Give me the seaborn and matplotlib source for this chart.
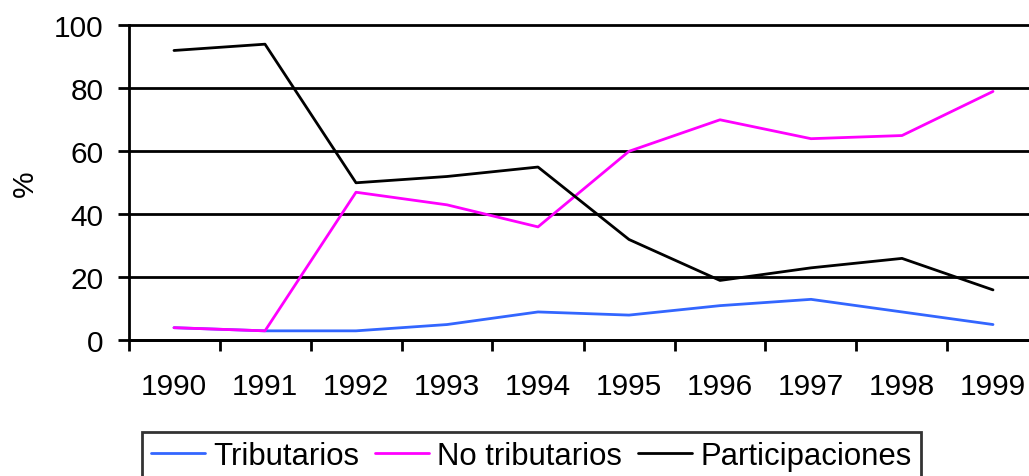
import pandas as pd
import numpy as np
import matplotlib
matplotlib.use("Agg")
import matplotlib.pyplot as plt
import seaborn as sns

# --------------------------------------------------
# Data
# --------------------------------------------------
years = ["1990", "1991", "1992", "1993", "1994", "1995", "1996", "1997", "1998", "1999"]
tributarios = [4, 3, 3, 5, 9, 8, 11, 13, 9, 5]
no_tributarios = [4, 3, 47, 43, 36, 60, 70, 64, 65, 79]
participaciones = [92, 94, 50, 52, 55, 32, 19, 23, 26, 16]

series_names = ["Tributarios", "No tributarios", "Participaciones"]
colors = ["#3366FF", "#FF00FF", "#000000"]

df = pd.DataFrame({
    "year": years * 3,
    "value": tributarios + no_tributarios + participaciones,
    "serie": np.repeat(series_names, len(years)),
})

# --------------------------------------------------
# Plot
# --------------------------------------------------
sns.set_style("white")
plt.rcParams["font.family"] = ["Liberation Sans", "DejaVu Sans"]
plt.rcParams["text.color"] = "black"
plt.rcParams["axes.labelcolor"] = "black"
plt.rcParams["xtick.color"] = "black"
plt.rcParams["ytick.color"] = "black"

FS = 21.5
LW = 2.0

fig = plt.figure(figsize=(10.29, 4.77), dpi=100)
ax = fig.add_axes([128.5 / 1029, 0.2845, 910 / 1029, 0.6604])

sns.lineplot(data=df, x="year", y="value", hue="serie", hue_order=series_names,
             palette=colors, linewidth=LW, ax=ax, legend=False, sort=False)

ax.set_xlim(-0.5, len(years) - 0.5)
ax.set_ylim(0, 100)
ax.set_yticks(np.arange(0, 101, 20))
ax.yaxis.grid(True, color="black", linewidth=LW)
for gl in ax.get_ygridlines():
    gl.set_clip_on(False)
ax.set_axisbelow(True)

# ticks between categories, labels at category centres
ax.set_xticks(np.arange(-0.5, len(years), 1.0))
ax.set_xticklabels([])
ax.set_xticks(np.arange(len(years)), minor=True)
ax.set_xticklabels(years, minor=True)
ax.tick_params(axis="x", which="major", direction="out", length=8, width=LW,
               bottom=True)
ax.tick_params(axis="x", which="minor", length=0, pad=23, labelsize=FS)
ax.tick_params(axis="y", direction="out", length=8, width=LW,
               left=True, pad=10, labelsize=FS)

for side in ["top", "right"]:
    ax.spines[side].set_visible(False)
for side in ["left", "bottom"]:
    ax.spines[side].set_color("black")
    ax.spines[side].set_linewidth(LW)

ax.set_xlabel("")
ax.set_ylabel("%", fontsize=FS, labelpad=11)

handles = [plt.Line2D([], [], color=c, linewidth=LW) for c in colors]
leg = fig.legend(handles, series_names, loc="upper left",
                 bbox_to_anchor=(142 / 1029, 1 - 433 / 477), ncol=3,
                 fontsize=22.4, frameon=True, fancybox=False, edgecolor="black",
                 handlelength=1.73, handletextpad=0.26, columnspacing=0.52,
                 borderpad=0.3, borderaxespad=0)
leg.get_frame().set_linewidth(LW)

fig.savefig("out.png", dpi=100)
